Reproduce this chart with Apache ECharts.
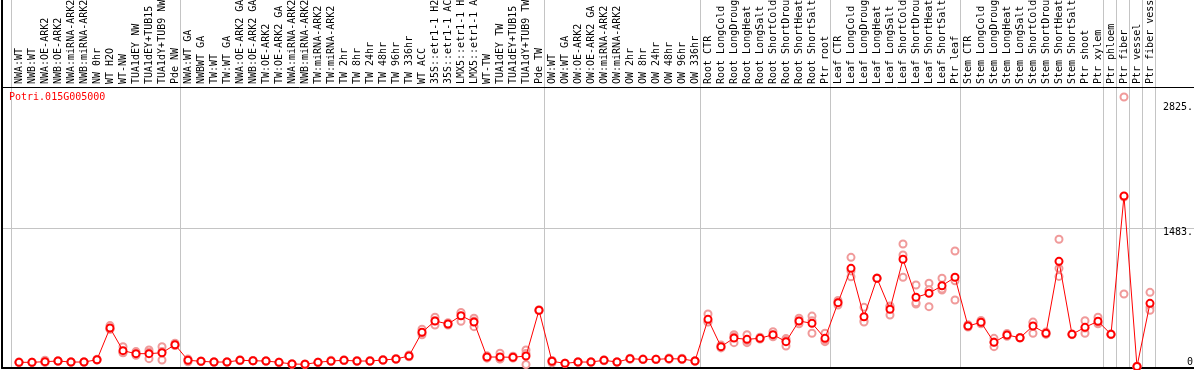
<!DOCTYPE html>
<html>
<head>
<meta charset="utf-8">
<script src="https://cdn.jsdelivr.net/npm/echarts@6/dist/echarts.min.js"></script>
<style>
  html, body { margin: 0; padding: 0; background: #fff; }
  #main { width: 1194px; height: 370px; }
</style>
</head>
<body>
<div id="main"></div>
<script>
// 样本名称
var categories = [
    'NWA:WT', 'NWB:WT', 'NWA:OE-ARK2', 'NWB:OE-ARK2', 'NWA:miRNA-ARK2', 'NWB:miRNA-ARK2',
    'NW 0hr', 'WT H2O', 'WT-NW', 'TUA1dEY NW', 'TUA1dEY+TUB15 NW', 'TUA1dY+TUB9 NW', 'Pde NW',
    'NWA:WT GA', 'NWBWT GA', 'TW:WT', 'TW:WT GA', 'NWA:OE-ARK2 GA', 'NWB:OE-ARK2 GA',
    'TW:OE-ARK2', 'TW:OE-ARK2 GA', 'NWA:miRNA-ARK2 GA', 'NWB:miRNA-ARK2 GA', 'TW:miRNA-ARK2',
    'TW:miRNA-ARK2 GA', 'TW 2hr', 'TW 8hr', 'TW 24hr', 'TW 48hr', 'TW 96hr', 'TW 336hr', 'WT ACC',
    '35S::etr1-1 H2O', '35S::etr1-1 ACC', 'LMX5::etr1-1 H2O', 'LMX5::etr1-1 ACC', 'WT-TW',
    'TUA1dEY TW', 'TUA1dEY+TUB15 TW', 'TUA1dY+TUB9 TW', 'Pde TW',
    'OW:WT', 'OW:WT GA', 'OW:OE-ARK2', 'OW:OE-ARK2 GA', 'OW:miRNA-ARK2', 'OW:miRNA-ARK2 GA',
    'OW 2hr', 'OW 8hr', 'OW 24hr', 'OW 48hr', 'OW 96hr', 'OW 336hr',
    'Root CTR', 'Root LongCold', 'Root LongDrought', 'Root LongHeat', 'Root LongSalt',
    'Root ShortCold', 'Root ShortDrought', 'Root ShortHeat', 'Root ShortSalt', 'Ptr root',
    'Leaf CTR', 'Leaf LongCold', 'Leaf LongDrought', 'Leaf LongHeat', 'Leaf LongSalt',
    'Leaf ShortCold', 'Leaf ShortDrought', 'Leaf ShortHeat', 'Leaf ShortSalt', 'Ptr leaf',
    'Stem CTR', 'Stem LongCold', 'Stem LongDrought', 'Stem LongHeat', 'Stem LongSalt',
    'Stem ShortCold', 'Stem ShortDrought', 'Stem ShortHeat', 'Stem ShortSalt',
    'Ptr shoot', 'Ptr xylem', 'Ptr phloem', 'Ptr fiber', 'Ptr vessel', 'Ptr fiber vessel'
];

// 平均值
var meanVals = [
    45, 45, 52, 59, 48, 48, 73, 414, 170, 138, 138, 148, 234,
    67, 56, 48, 48, 67, 62, 59, 45, 27, 24, 45, 59, 67, 59, 59, 70, 81, 113, 368,
    489, 457, 546, 478, 102, 102, 99, 113, 604,
    56, 34, 48, 48, 67, 48, 84, 77, 77, 84, 81, 59,
    507, 213, 306, 292, 303, 342, 267, 489, 464, 303,
    686, 1055, 535, 948, 615, 1152, 744, 787, 868, 959,
    435, 475, 260, 339, 309, 435, 357, 1130, 346, 421, 486,
    346, 1832, 0, 679
];

// 重复样本
var rep1 = [
    42, 44, 67, 57, 46, 50, 78, 440, 213, 160, 177, 213, 250,
    80, 58, 50, 46, 72, 64, 61, 47, 30, 26, 47, 66, 72, 65, 64, 74, 86, 125, 400,
    529, 470, 572, 518, 115, 142, 110, 177, 610,
    40, 36, 50, 46, 72, 50, 90, 80, 79, 92, 90, 61,
    564, 230, 342, 342, 315, 374, 220, 518, 542, 357,
    710, 1173, 636, 950, 650, 1316, 876, 894, 948, 1241,
    450, 495, 303, 355, 312, 471, 370, 1367, 350, 492, 529,
    350, 2896, 0, 797
];
var rep2 = [
    48, 46, 45, 61, 50, 46, 70, 400, 150, 120, 84, 70, 225,
    50, 54, 46, 50, 62, 60, 57, 43, 24, 22, 43, 55, 64, 55, 55, 66, 78, 105, 340,
    446, 445, 486, 428, 90, 80, 92, 140, 600,
    65, 32, 46, 50, 62, 46, 78, 74, 75, 78, 75, 57,
    480, 200, 256, 256, 295, 320, 300, 460, 357, 267,
    660, 965, 492, 946, 553, 1198, 672, 643, 822, 715,
    425, 460, 213, 325, 306, 357, 345, 1055, 342, 357, 460,
    342, 779, 0, 636
];
var rep3 = [
    45, 45, 44, 59, 48, 48, 71, 402, 147, 134, 153, 161, 227,
    71, 56, 48, 48, 67, 62, 59, 45, 27, 24, 45, 56, 65, 57, 58, 70, 79, 109, 364,
    492, 456, 580, 488, 101, 84, 95, 22, 602,
    63, 34, 48, 48, 67, 48, 84, 77, 77, 82, 78, 59,
    477, 209, 320, 278, 299, 332, 281, 489, 493, 285,
    688, 1027, 477, 948, 642, 959, 684, 824, 834, 921,
    430, 470, 264, 337, 309, 477, 356, 968, 346, 414, 469,
    346, 1821, 0, 605
];

// 纵轴刻度
var yTickVals = [0, 1483, 2825];
var yGridVals = [1483];
// 分组分隔线
var groupLines = [-0.615, 12.385, 40.385, 52.385, 62.385, 72.385, 83.385, 84.385, 85.385, 86.385, 87.385];
var geneName = 'Potri.015G005000';

var font = 'DejaVu Sans Mono';
var xMin = -1.3077, xMax = 90.385;

function toPoints(arr) {
    var out = [];
    for (var i = 0; i < arr.length; i++) {
        out.push([i, arr[i]]);
    }
    return out;
}

var catIdx = [];
for (var i = 0; i < categories.length; i++) catIdx.push(i);

var myChart = echarts.init(document.getElementById('main'));

var repStyle = {
    type: 'line',
    xAxisIndex: 0,
    yAxisIndex: 0,
    symbol: 'emptyCircle',
    symbolSize: 7,
    lineStyle: {width: 0, opacity: 0},
    itemStyle: {color: '#f09a9a', borderWidth: 1.3},
    silent: true,
    z: 2
};

var option = {
    animation: false,
    title: {
        text: geneName,
        left: 4,
        top: 87,
        textStyle: {color: '#ff0000', fontSize: 10, fontWeight: 'normal', fontFamily: font}
    },
    grid: {left: 2, right: 0, top: 0, bottom: 2, outerBoundsMode: 'none', containLabel: false},
    xAxis: [
        {
            // 样本名称轴, 下移到表头底线
            type: 'value',
            position: 'top',
            offset: -87,
            min: xMin,
            max: xMax,
            axisLine: {onZero: false, lineStyle: {color: '#000', width: 1}},
            axisTick: {show: false, customValues: groupLines},
            splitLine: {show: true, lineStyle: {color: '#c4c4c4', width: 1}},
            axisLabel: {
                customValues: catIdx,
                rotate: -90,
                margin: 3,
                padding: [6, 0, 0, 0],
                color: '#000',
                fontSize: 10,
                fontFamily: font,
                formatter: function (v) { return categories[Math.round(v)]; }
            }
        },
        {
            type: 'value',
            position: 'bottom',
            min: xMin,
            max: xMax,
            axisLine: {onZero: false, lineStyle: {color: '#000', width: 2}},
            axisTick: {show: false},
            axisLabel: {show: false},
            splitLine: {show: false}
        }
    ],
    yAxis: [
        {
            type: 'value',
            position: 'right',
            min: -16,
            max: 3938,
            axisLine: {show: false},
            axisTick: {show: false, customValues: yGridVals},
            splitLine: {show: true, lineStyle: {color: '#c4c4c4', width: 1}},
            axisLabel: {
                inside: true,
                margin: 1,
                customValues: yTickVals,
                color: '#000',
                fontSize: 10,
                fontFamily: font,
                formatter: function (v) {
                    return v === 0 ? '{b|0}' : '{t|' + v + '.}';
                },
                rich: {
                    t: {padding: [7, 0, 0, 0], fontSize: 10, fontFamily: font, color: '#000'},
                    b: {padding: [0, 0, 9, 0], fontSize: 10, fontFamily: font, color: '#000'}
                }
            }
        },
        {
            type: 'value',
            position: 'left',
            min: 0,
            max: 1,
            axisLine: {show: true, onZero: false, lineStyle: {color: '#000', width: 2}},
            axisTick: {show: false},
            axisLabel: {show: false},
            splitLine: {show: false}
        }
    ],
    series: [
        Object.assign({name: 'rep1', data: toPoints(rep1)}, repStyle),
        Object.assign({name: 'rep2', data: toPoints(rep2)}, repStyle),
        Object.assign({name: 'rep3', data: toPoints(rep3)}, repStyle),
        {
            name: 'mean',
            type: 'line',
            xAxisIndex: 0,
            yAxisIndex: 0,
            symbol: 'emptyCircle',
            symbolSize: 7,
            lineStyle: {color: '#ff0000', width: 1},
            itemStyle: {color: '#ff0000', borderWidth: 1.5},
            data: toPoints(meanVals),
            z: 3
        }
    ]
};

myChart.setOption(option);
</script>
</body>
</html>
